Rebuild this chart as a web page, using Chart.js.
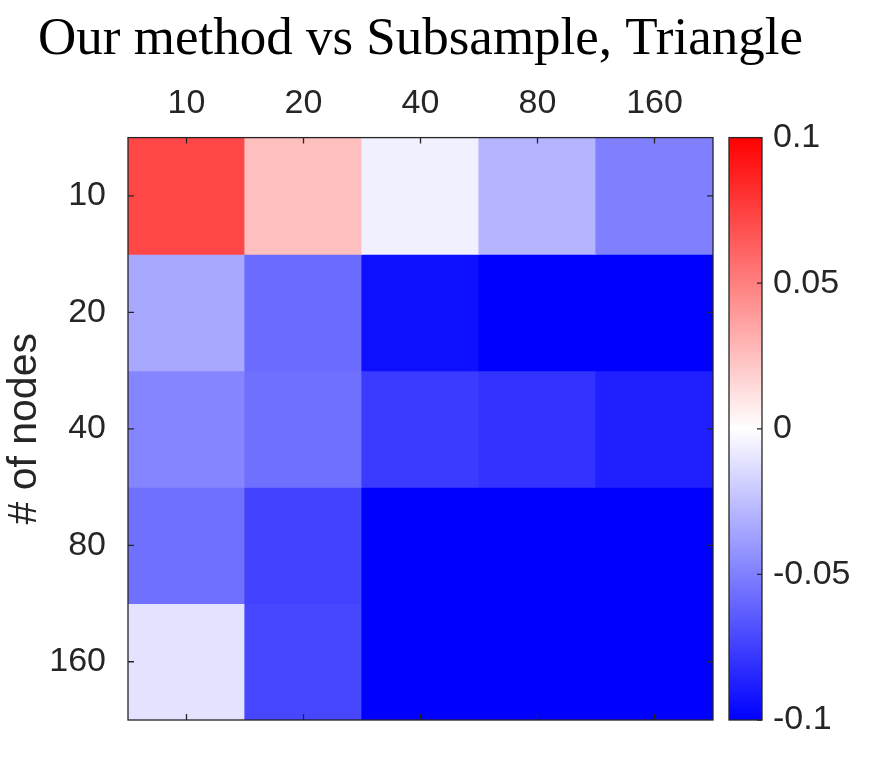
<!DOCTYPE html>
<html>
<head>
<meta charset="utf-8">
<script src="https://cdn.jsdelivr.net/npm/chart.js@4.4.0/dist/chart.umd.min.js"></script>
<style>
  body { margin: 0; background: #fff; }
  canvas { display: block; }
</style>
</head>
<body>
<canvas id="heatmap" width="870" height="780"></canvas>
<script>
// columns (top axis) and rows (# of nodes)
const colLabels = ['10', '20', '40', '80', '160'];
const rowLabels = ['10', '20', '40', '80', '160'];

// one array per row
const nodes10  = [0.072, 0.025, -0.006, -0.029, -0.050];
const nodes20  = [-0.034, -0.058, -0.094, -0.100, -0.100];
const nodes40  = [-0.048, -0.056, -0.077, -0.080, -0.088];
const nodes80  = [-0.056, -0.074, -0.100, -0.100, -0.100];
const nodes160 = [-0.011, -0.072, -0.100, -0.100, -0.100];
const rows = [nodes10, nodes20, nodes40, nodes80, nodes160];

// colour scale
const colorTicks = [-0.1, -0.05, 0, 0.05, 0.1];
const cMin = -0.1, cMax = 0.1;

const textColor = '#262626';

// blue -> white -> red
function cmap(v) {
    let t = (v - (cMin + cMax) / 2) / ((cMax - cMin) / 2);
    t = Math.max(-1, Math.min(1, t));
    if (t >= 0) {
        const c = Math.round(255 * (1 - t));
        return `rgb(255,${c},${c})`;
    }
    const c = Math.round(255 * (1 + t));
    return `rgb(${c},${c},255)`;
}

// box, inward ticks and the colour bar
const framePlugin = {
    id: 'frame',
    afterLayout(chart) {
        // centre the title over the plot box, as the original does
        const a = chart.chartArea;
        chart.titleBlock.right = a.left + a.right;
    },
    afterDatasetsDraw(chart) {
        const { ctx, chartArea: a, scales } = chart;
        const tick = 6;
        ctx.save();
        ctx.strokeStyle = textColor;
        ctx.lineWidth = 1.3;
        ctx.beginPath();
        colLabels.forEach((_, i) => {
            const px = scales.x.getPixelForTick(i);
            ctx.moveTo(px, a.top); ctx.lineTo(px, a.top + tick);
            ctx.moveTo(px, a.bottom); ctx.lineTo(px, a.bottom - tick);
        });
        rowLabels.forEach((_, i) => {
            const py = scales.y.getPixelForValue(i + 0.5);
            ctx.moveTo(a.left, py); ctx.lineTo(a.left + tick, py);
            ctx.moveTo(a.right, py); ctx.lineTo(a.right - tick, py);
        });
        ctx.stroke();
        ctx.strokeRect(a.left, a.top, a.right - a.left, a.bottom - a.top);

        // colour bar drawn along the cb scale
        const cb = scales.cb;
        const x0 = a.right + 16, w = 33;
        for (let py = Math.floor(cb.top); py < cb.bottom; py++) {
            ctx.fillStyle = cmap(cb.getValueForPixel(py + 0.5));
            ctx.fillRect(x0, py, w, 1);
        }
        ctx.strokeRect(x0, cb.top, w, cb.bottom - cb.top);
        ctx.beginPath();
        colorTicks.forEach(v => {
            const py = cb.getPixelForValue(v);
            ctx.moveTo(x0 + w, py); ctx.lineTo(x0 + w - 5, py);
        });
        ctx.stroke();
        ctx.restore();
    }
};

const datasets = rows.map((vals, r) => ({
    label: rowLabels[r],
    data: vals.map(() => 1),
    backgroundColor: vals.map(cmap),
    borderWidth: 0,
    inflateAmount: 0.6,   // hides the hairline seams between cells
    barPercentage: 1,
    categoryPercentage: 1
}));

const tickFont = { family: 'Liberation Sans', size: 34 };

new Chart(document.getElementById('heatmap'), {
    type: 'bar',
    data: { labels: colLabels, datasets: datasets },
    options: {
        responsive: false,
        animation: false,
        layout: { padding: { top: 0, left: 0, right: 0, bottom: 60 } },
        scales: {
            x: {
                position: 'top',
                stacked: true,
                grid: { display: false, drawTicks: false },
                border: { display: false },
                ticks: { color: textColor, font: tickFont, padding: 14 },
                afterFit: s => { s.height = 66; }
            },
            y: {
                type: 'linear',
                stacked: true,
                min: 0,
                max: 5,
                reverse: true,
                // the invisible tick length keeps the labels off the box
                grid: { display: false, drawTicks: true, tickLength: 20 },
                border: { display: false },
                afterBuildTicks: s => { s.ticks = rowLabels.map((_, i) => ({ value: i + 0.5 })); },
                ticks: {
                    color: textColor,
                    font: tickFont,
                    padding: 2,
                    callback: (v, i) => rowLabels[i]
                },
                title: {
                    display: true,
                    text: '# of nodes',
                    color: textColor,
                    font: { family: 'Liberation Sans', size: 41 },
                    padding: { top: 0, bottom: 0 }
                },
                afterFit: s => { s.width = 128; }
            },
            cb: {
                type: 'linear',
                position: 'right',
                min: cMin,
                max: cMax,
                grid: { display: false, drawTicks: true, tickLength: 58 },
                border: { display: false },
                afterBuildTicks: s => { s.ticks = colorTicks.map(v => ({ value: v })); },
                ticks: {
                    color: textColor,
                    font: tickFont,
                    padding: 2,
                    callback: v => String(v)
                },
                afterFit: s => { s.width = 157; }
            }
        },
        plugins: {
            legend: { display: false },
            tooltip: { enabled: false },
            title: {
                display: true,
                text: 'Our method vs Subsample, Triangle',
                color: '#000',
                font: { family: 'Liberation Serif', size: 53, weight: 'normal' },
                padding: { top: 8, bottom: 0 }
            }
        }
    },
    plugins: [framePlugin]
});
</script>
</body>
</html>
